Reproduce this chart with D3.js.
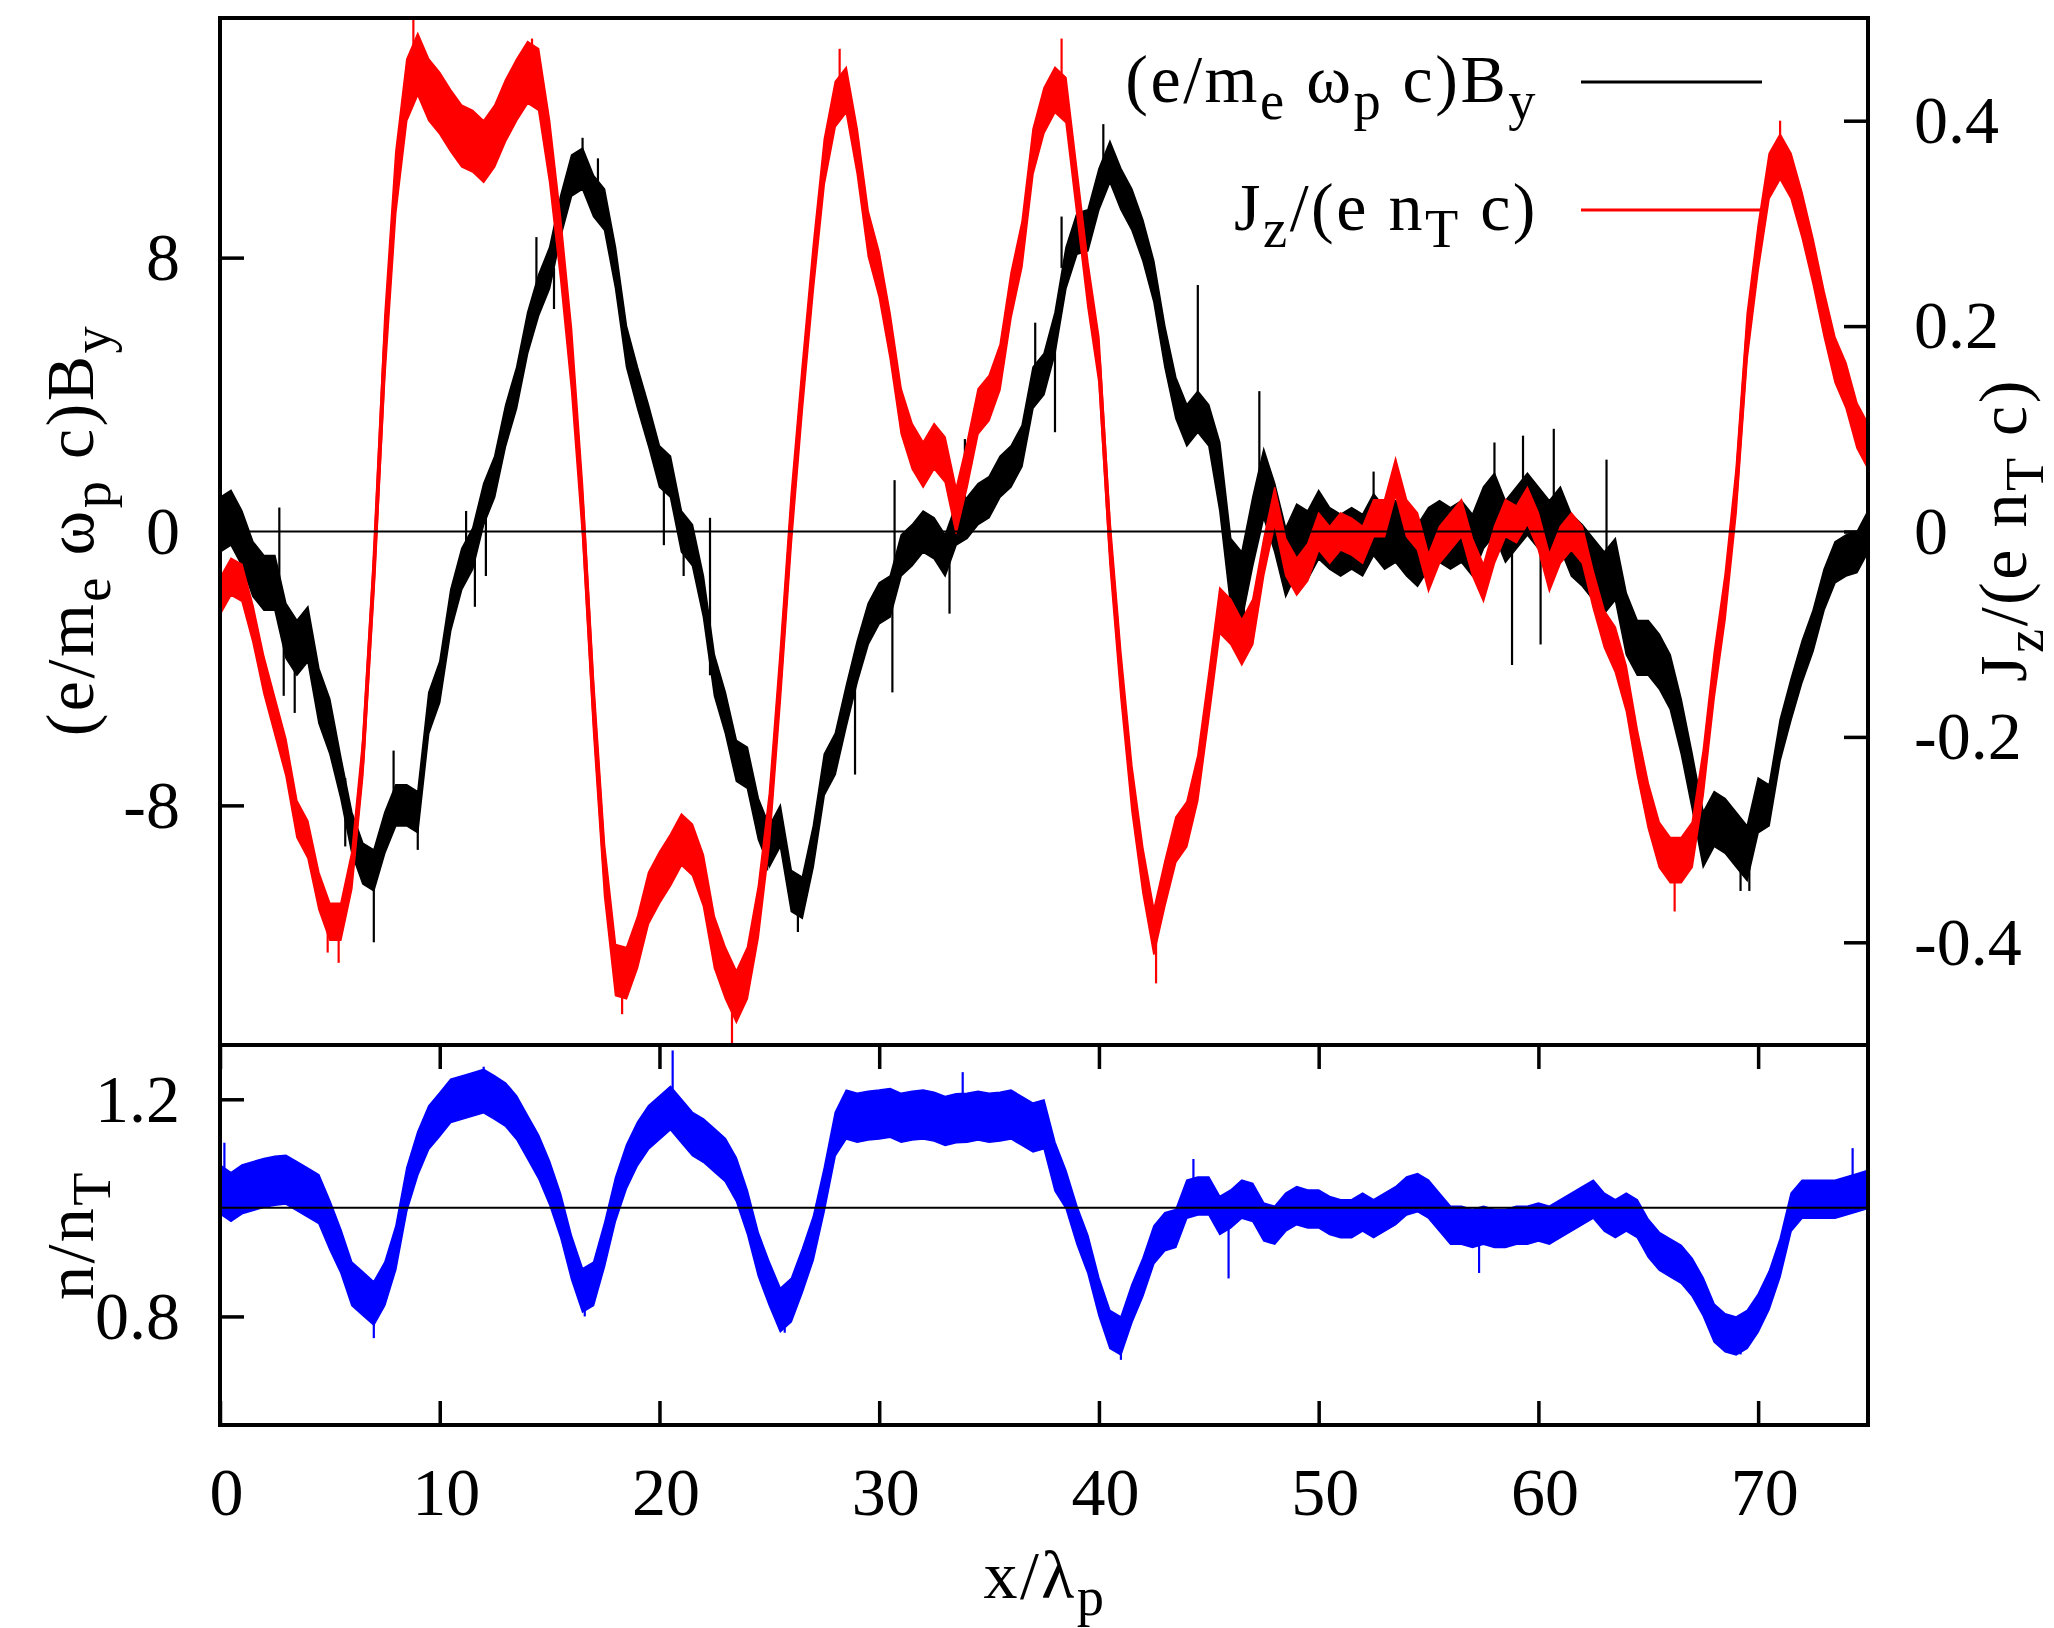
<!DOCTYPE html>
<html><head><meta charset="utf-8">
<script src="https://cdn.jsdelivr.net/npm/d3@7"></script>
<style>
html,body{margin:0;padding:0;background:#fff;}
svg{display:block;}
text{font-family:"Liberation Serif","Times New Roman",serif;fill:#000;white-space:pre;}
</style></head><body>
<svg id="chart" width="2054" height="1628"></svg>
<script>
// ---------------- DATA ----------------
const xGrid = [
 0,0.5,1,1.5,2,2.5,3,3.5,4,4.5, 5,5.5,6,6.5,7,7.5,8,8.5,9,9.5,
 10,10.5,11,11.5,12,12.5,13,13.5,14,14.5, 15,15.5,16,16.5,17,17.5,18,18.5,19,19.5,
 20,20.5,21,21.5,22,22.5,23,23.5,24,24.5, 25,25.5,26,26.5,27,27.5,28,28.5,29,29.5,
 30,30.5,31,31.5,32,32.5,33,33.5,34,34.5, 35,35.5,36,36.5,37,37.5,38,38.5,39,39.5,
 40,40.5,41,41.5,42,42.5,43,43.5,44,44.5, 45,45.5,46,46.5,47,47.5,48,48.5,49,49.5,
 50,50.5,51,51.5,52,52.5,53,53.5,54,54.5, 55,55.5,56,56.5,57,57.5,58,58.5,59,59.5,
 60,60.5,61,61.5,62,62.5,63,63.5,64,64.5, 65,65.5,66,66.5,67,67.5,68,68.5,69,69.5,
 70,70.5,71,71.5,72,72.5,73,73.5,74,74.5, 75];

// (e/m_e w_p c) B_y  (left axis)
const byVals = [
 0.2,0.4,-0.2,-1.1,-1.5,-1.5,-2.9,-3.4,-3.0,-4.8,
 -5.7,-7.2,-8.8,-9.7,-9.9,-8.8,-8.0,-8.0,-8.2,-5.3,
 -4.4,-2.3,-1.1,-0.5,0.8,1.6,3.1,4.2,5.8,6.9,
 7.7,9.2,10.4,10.6,9.8,9.4,7.7,5.4,4.2,3.1,
 1.9,1.6,0.0,-0.4,-1.9,-4.2,-5.3,-6.7,-6.9,-8.4,
 -9.2,-8.6,-10.5,-10.7,-9.2,-7.1,-6.5,-5.1,-3.8,-2.7,
 -2.1,-1.9,-0.7,-0.4,0.0,-0.2,-0.7,0.2,0.4,0.8,
 1.0,1.6,1.9,2.5,4.2,4.6,5.8,7.7,8.7,8.8,
 10.0,10.8,10.0,9.4,8.5,7.3,5.4,3.9,3.1,3.5,
 3.1,1.6,-1.2,-1.6,0.0,1.4,0.4,-0.9,-0.2,-0.4,
 0.2,-0.2,-0.4,-0.2,-0.4,0.2,-0.2,0.0,-0.4,-0.7,
 -0.2,0.0,-0.2,0.0,-0.4,0.4,0.8,0.0,0.4,0.8,
 0.4,0.0,0.4,-0.4,-0.7,-1.1,-1.5,-1.1,-2.7,-3.4,
 -3.4,-3.8,-4.4,-5.7,-7.3,-9.0,-8.4,-8.6,-9.0,-9.4,
 -8.0,-8.0,-6.1,-4.9,-3.8,-2.9,-1.7,-0.9,-0.7,-0.6,
 0.0];

// J_z/(e n_T c)  (right axis)
const jzVals = [
 -0.063,-0.044,-0.05,-0.09,-0.14,-0.18,-0.22,-0.28,-0.30,-0.35,
 -0.38,-0.38,-0.33,-0.22,-0.04,0.18,0.34,0.43,0.455,0.43,
 0.417,0.40,0.385,0.38,0.37,0.385,0.41,0.43,0.447,0.44,
 0.37,0.276,0.167,0.02,-0.17,-0.33,-0.427,-0.43,-0.40,-0.357,
 -0.337,-0.32,-0.30,-0.31,-0.34,-0.40,-0.43,-0.453,-0.43,-0.37,
 -0.28,-0.14,0.013,0.14,0.257,0.36,0.416,0.43,0.37,0.29,
 0.25,0.19,0.117,0.083,0.065,0.083,0.07,0.02,0.065,0.117,
 0.13,0.16,0.23,0.28,0.37,0.41,0.43,0.42,0.33,0.24,
 0.167,-0.01,-0.14,-0.25,-0.33,-0.39,-0.343,-0.30,-0.285,-0.24,
 -0.16,-0.077,-0.088,-0.108,-0.088,-0.025,0.025,-0.025,-0.044,-0.03,
 0.0,-0.013,0.0,-0.005,-0.013,0.013,0.013,0.053,0.013,0.0,
 -0.04,-0.013,0.0,0.013,-0.025,-0.05,-0.013,0.013,0.007,0.025,
 0.0,-0.04,-0.013,0.0,-0.013,-0.057,-0.095,-0.115,-0.153,-0.215,
 -0.267,-0.305,-0.32,-0.32,-0.305,-0.235,-0.14,-0.063,0.04,0.19,
 0.276,0.346,0.365,0.346,0.308,0.263,0.212,0.167,0.142,0.103,
 0.083];

// n/n_T  (lower panel)
const nVals = [
 1.034,1.02,1.034,1.04,1.046,1.05,1.052,1.04,1.028,1.016,
 0.968,0.92,0.86,0.842,0.824,0.86,0.926,1.034,1.10,1.148,
 1.172,1.197,1.203,1.209,1.215,1.203,1.19,1.166,1.13,1.094,
 1.046,0.986,0.908,0.848,0.86,0.932,1.016,1.076,1.118,1.148,
 1.166,1.184,1.16,1.136,1.124,1.106,1.088,1.052,0.992,0.914,
 0.86,0.812,0.83,0.884,0.944,1.034,1.136,1.172,1.166,1.17,
 1.172,1.175,1.166,1.17,1.172,1.168,1.16,1.165,1.166,1.17,
 1.166,1.168,1.172,1.16,1.148,1.154,1.076,1.034,0.968,0.914,
 0.836,0.776,0.764,0.824,0.872,0.932,0.956,0.962,1.016,1.022,
 1.022,0.986,0.998,1.016,1.01,0.974,0.968,0.992,1.004,0.998,
 0.998,0.986,0.98,0.98,0.992,0.98,0.992,1.004,1.022,1.028,
 1.016,0.992,0.968,0.968,0.962,0.968,0.962,0.962,0.968,0.968,
 0.974,0.968,0.98,0.992,1.004,1.016,0.992,0.98,0.992,0.98,
 0.944,0.92,0.908,0.896,0.872,0.836,0.788,0.77,0.764,0.776,
 0.806,0.848,0.908,0.992,1.016,1.016,1.016,1.016,1.022,1.028,
 1.034];

// noise half-width of each curve: [x from, x to, half-width]
const byNoise = [[0,5,0.8],[5,45,0.6],[45,50,1.0],[50,64,0.9],[64,70,0.8],[70,75,0.6]];
const jzNoise = [[0,7,0.018],[7,16,0.03],[16,26,0.025],[26,47,0.022],[47,63,0.018],[63,75,0.022]];
const nNoise  = [[0,5,0.045],[5,28,0.04],[28,38,0.045],[38,75,0.035]];

// isolated noise spikes: [x, value]
const bySpikes = [[2.7,0.7],[2.9,-4.8],[3.4,-5.3],[5.7,-9.2],[7.0,-12.0],[7.9,-6.4],[9.0,-9.3],
 [11.2,0.6],[11.6,-2.2],[12.1,-1.3],[14.4,8.6],[15.2,6.5],[16.5,11.5],[17.2,10.9],[20.2,-0.4],
 [21.1,-1.3],[22.3,0.4],[24.9,-9.9],[26.3,-11.7],[28.9,-7.1],[30.6,-4.7],[30.7,1.5],[33.2,-2.4],
 [33.9,2.7],[37.1,6.1],[38.0,2.9],[38.3,9.2],[40.2,11.9],[44.5,7.2],[46.2,-2.9],[46.6,-3.0],
 [47.3,4.1],[52.5,1.75],[58.0,2.6],[58.8,-3.9],[59.3,2.8],[60.1,-3.3],[60.7,3.0],[63.1,2.1],
 [69.2,-10.5],[69.6,-10.5]];
const jzSpikes = [[8.8,0.5],[14.2,0.48],[28.2,0.47],[38.3,0.48],[23.3,-0.5],[18.3,-0.47],
 [42.6,-0.44],[66.2,-0.37],[71.0,0.40],[5.4,-0.42],[4.9,-0.41]];
const nSpikes = [[20.6,1.29],[12.0,1.26],[33.8,1.25],[41.0,0.72],[69.2,0.73],[7.0,0.76],
 [25.7,0.77],[16.6,0.8],[74.3,1.11],[44.3,1.09],[0.2,1.12],[45.9,0.87],[57.3,0.88]];

// ticks
const xTicks = [0,10,20,30,40,50,60,70];
const byTicks = [-8,0,8];
const jzTicks = [-0.4,-0.2,0,0.2,0.4];
const nTicks = [0.8,1.2];

// ---------------- DRAWING ----------------
const FONT = '"Liberation Serif","Times New Roman",serif';
const FS = 68;
const svg = d3.select("#chart");
const L=220, R=1868, T=18, M=1045, B=1425;

const x  = d3.scaleLinear().domain([0,75]).range([L,R]);
const yB = d3.scaleLinear().domain([-15,15]).range([M,T]);
const yJ = d3.scaleLinear().domain([-0.5,0.5]).range([M,T]);
const yN = d3.scaleLinear().domain([0.6,1.3]).range([B,M]);

const defs = svg.append("defs");
defs.append("clipPath").attr("id","clipTop").append("rect")
  .attr("x",L).attr("y",T).attr("width",R-L).attr("height",M-T);
defs.append("clipPath").attr("id","clipBot").append("rect")
  .attr("x",L).attr("y",M).attr("width",R-L).attr("height",B-M);

function spreadAt(bands, xv){
  for (const b of bands) if (xv>=b[0] && xv<=b[1]) return b[2];
  return bands[bands.length-1][2];
}
function drawSeries(g, vals, bands, spikes, y, color, lw){
  const pts = xGrid.map((xv,i)=>({x:xv, v:vals[i], s:spreadAt(bands,xv)}));
  g.append("path").datum(pts)
    .attr("d", d3.area().x(d=>x(d.x)).y0(d=>y(d.v-d.s)).y1(d=>y(d.v+d.s)))
    .attr("fill",color).attr("stroke",color).attr("stroke-width",1.5);
  g.append("path").datum(pts)
    .attr("d", d3.line().x(d=>x(d.x)).y(d=>y(d.v)))
    .attr("fill","none").attr("stroke",color).attr("stroke-width",lw)
    .attr("stroke-linejoin","round");
  g.selectAll(null).data(spikes).enter().append("line")
    .attr("x1",d=>x(d[0])).attr("x2",d=>x(d[0]))
    .attr("y1",d=>y(vals[d3.minIndex(xGrid,g=>Math.abs(g-d[0]))]))
    .attr("y2",d=>y(d[1]))
    .attr("stroke",color).attr("stroke-width",2.2);
}

const gTop = svg.append("g").attr("clip-path","url(#clipTop)");
drawSeries(gTop, byVals, byNoise, bySpikes, yB, "#000000", 2.5);
drawSeries(gTop, jzVals, jzNoise, jzSpikes, yJ, "#ff0000", 4);
const gBot = svg.append("g").attr("clip-path","url(#clipBot)");
drawSeries(gBot, nVals, nNoise, nSpikes, yN, "#0000ff", 4);

// zero lines
svg.append("line").attr("x1",L).attr("x2",R).attr("y1",yB(0)).attr("y2",yB(0))
  .attr("stroke","#000").attr("stroke-width",2);
svg.append("line").attr("x1",L).attr("x2",R).attr("y1",yN(1)).attr("y2",yN(1))
  .attr("stroke","#000").attr("stroke-width",2);

function styleAxis(g){
  g.select(".domain").remove();
  g.attr("font-family",FONT).attr("font-size",FS);
  g.selectAll(".tick line").attr("stroke","#000").attr("stroke-width",3.5);
  g.selectAll(".tick text").attr("fill","#000");
  return g;
}
const fmt = d=>String(d);
styleAxis(svg.append("g").attr("transform",`translate(${L},0)`)
  .call(d3.axisLeft(yB).tickValues(byTicks).tickSize(-24).tickPadding(40).tickFormat(fmt)));
styleAxis(svg.append("g").attr("transform",`translate(${R},0)`)
  .call(d3.axisRight(yJ).tickValues(jzTicks).tickSize(-24).tickPadding(46).tickFormat(fmt)));
styleAxis(svg.append("g").attr("transform",`translate(${L},0)`)
  .call(d3.axisLeft(yN).tickValues(nTicks).tickSize(-24).tickPadding(40).tickFormat(d3.format(".1f"))));
styleAxis(svg.append("g").attr("transform",`translate(0,${B})`)
  .call(d3.axisBottom(x).tickValues(xTicks).tickSize(-24).tickPadding(42).tickFormat(fmt)))
  .selectAll(".tick text").attr("dx",6);
styleAxis(svg.append("g").attr("transform",`translate(0,${M})`)
  .call(d3.axisTop(x).tickValues(xTicks).tickSize(-24).tickFormat(()=>"")));

// frames
svg.append("rect").attr("x",L).attr("y",T).attr("width",R-L).attr("height",M-T)
  .attr("fill","none").attr("stroke","#000").attr("stroke-width",4);
svg.append("rect").attr("x",L).attr("y",M).attr("width",R-L).attr("height",B-M)
  .attr("fill","none").attr("stroke","#000").attr("stroke-width",4);

// rich text with subscripts
function rich(sel, parts, size){
  const sh = size*0.25;
  let down = false;
  sel.attr("letter-spacing",2.5);
  parts.forEach(([s,sub])=>{
    const t = sel.append("tspan").text(s);
    if (sub){ t.attr("font-size",size*0.8); if(!down){ t.attr("dy",sh); down=true; } }
    else if (down){ t.attr("dy",-sh); down=false; }
  });
  return sel;
}
const byLabel = [["(e/m",0],["e",1],[" ω",0],["p",1],[" c)B",0],["y",1]];
const jzLabel = [["J",0],["z",1],["/(e n",0],["T",1],[" c)",0]];
const nLabel  = [["n/n",0],["T",1]];
const xLabel  = [["x/λ",0],["p",1]];

rich(svg.append("text").attr("transform","translate(93,530) rotate(-90)")
  .attr("text-anchor","middle").attr("font-size",FS), byLabel, FS);
rich(svg.append("text").attr("transform","translate(2026,530) rotate(-90)")
  .attr("text-anchor","middle").attr("font-size",FS), jzLabel, FS);
rich(svg.append("text").attr("transform","translate(93,1235) rotate(-90)")
  .attr("text-anchor","middle").attr("font-size",FS), nLabel, FS);
rich(svg.append("text").attr("x",1045).attr("y",1598)
  .attr("text-anchor","middle").attr("font-size",FS), xLabel, FS);

// legend
const legend = [{parts:byLabel,color:"#000000",y:82},{parts:jzLabel,color:"#ff0000",y:210}];
legend.forEach(it=>{
  rich(svg.append("text").attr("x",1538).attr("y",it.y+20)
    .attr("text-anchor","end").attr("font-size",FS), it.parts, FS);
  svg.append("line").attr("x1",1581).attr("x2",1762).attr("y1",it.y).attr("y2",it.y)
    .attr("stroke",it.color).attr("stroke-width",3);
});
</script>
</body></html>
